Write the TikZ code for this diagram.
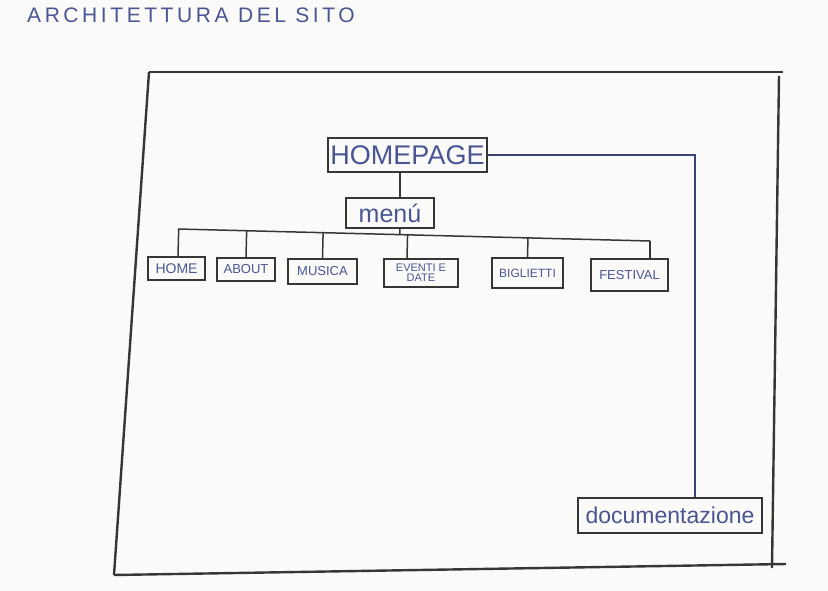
\documentclass[tikz,border=0pt]{standalone}
\usepackage{fontspec}
\setmainfont{Liberation Sans}
\newfontfamily\handwide[LetterSpace=17]{Liberation Sans}
\usetikzlibrary{calc}
\definecolor{ink}{HTML}{4A5593}
\definecolor{pencil}{HTML}{363636}
\definecolor{paper}{HTML}{FAFAF8}
\tikzset{
  frameline/.style={draw=pencil, line width=2.4pt},
  box/.style={draw=pencil, line width=1.9pt, text=ink, inner sep=0pt, align=center},
  link/.style={draw=pencil, line width=1.5pt},
  bluelink/.style={draw=ink!80!black, line width=1.2pt}
}
\begin{document}
\begin{tikzpicture}[x=1pt,y=-1pt]
\fill[paper] (0,0) rectangle (828,591);
\useasboundingbox (0,0) rectangle (828,591);
% title
\node[anchor=west, text=ink, inner sep=0pt, font=\handwide\fontsize{21}{22}\selectfont] (title) at (27,15) {ARCHITETTURA DEL SITO};
% outer frame
\coordinate (ftl) at (149,72);
\coordinate (ftr) at (783,72);
\coordinate (frt) at (779,76);
\coordinate (frb) at (772,568);
\coordinate (fbl) at (114,575);
\coordinate (fbr) at (786,564);
\draw[frameline] (ftl) -- (ftr);
\draw[frameline] (frt) -- (frb);
\draw[frameline] (fbl) -- (fbr);
\draw[frameline] (ftl) -- (fbl);
% boxes
\node[box, minimum width=159pt, minimum height=34pt, font=\fontsize{27}{28}\selectfont] (homepage) at (407.5,155) {HOMEPAGE};
\node[box, minimum width=88pt, minimum height=30pt, font=\fontsize{25}{26}\selectfont] (menu) at (390,213) {menú};
\node[box, minimum width=57pt, minimum height=23pt, font=\fontsize{14}{15}\selectfont] (home) at (176.5,268.5) {HOME};
\node[box, minimum width=58pt, minimum height=23pt, font=\fontsize{13}{14}\selectfont] (about) at (246,269.5) {ABOUT};
\node[box, minimum width=69pt, minimum height=25pt, font=\fontsize{13}{14}\selectfont] (musica) at (322.5,271.5) {MUSICA};
\node[box, minimum width=74pt, minimum height=28pt, font=\fontsize{11}{10}\selectfont] (eventi) at (421,273) {EVENTI E\\DATE};
\node[box, minimum width=71pt, minimum height=30pt, font=\fontsize{12}{13}\selectfont] (biglietti) at (527.5,273) {BIGLIETTI};
\node[box, minimum width=77pt, minimum height=32pt, font=\fontsize{13}{14}\selectfont] (festival) at (629.5,275) {FESTIVAL};
\node[box, minimum width=184pt, minimum height=35pt, font=\fontsize{23}{24}\selectfont] (doc) at (670,515.5) {documentazione};
% connectors
\coordinate (busL) at (178,229);
\coordinate (busR) at (650,241);
\draw[link] (busL) -- (busR);
\draw[link] ([xshift=-7.5pt]homepage.south) -- ([xshift=10pt]menu.north);
\draw[link] ([xshift=10pt]menu.south) -- ($(busL)!([xshift=10pt]menu.south)!(busR)$);
\draw[link] ([xshift=1.5pt]home.north) -- ($(busL)!([xshift=1.5pt]home.north)!(busR)$);
\draw[link] (about.north) -- ($(busL)!(about.north)!(busR)$);
\draw[link] (musica.north) -- ($(busL)!(musica.north)!(busR)$);
\draw[link] ([xshift=-14pt]eventi.north) -- ($(busL)!([xshift=-14pt]eventi.north)!(busR)$);
\draw[link] (biglietti.north) -- ($(busL)!(biglietti.north)!(busR)$);
\draw[link] ([xshift=20.5pt]festival.north) -- (busR);
\draw[bluelink] (homepage.east) -| ([xshift=25pt]doc.north);
\end{tikzpicture}
\end{document}
